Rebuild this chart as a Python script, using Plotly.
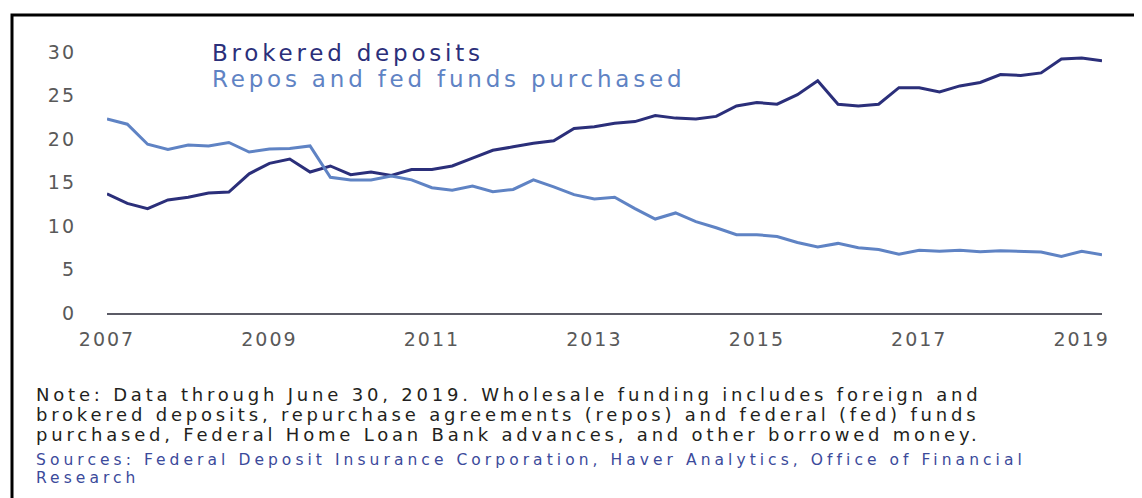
import plotly.graph_objects as go

# quarterly observations, 2007 Q1 .. 2019 Q2 (percent)
quarters = [2007 + 0.25 * i for i in range(50)]

brokered_deposits = [
    13.7, 12.6, 12.0, 13.0, 13.3, 13.8, 13.9, 16.0, 17.2, 17.7,
    16.2, 16.9, 15.9, 16.2, 15.8, 16.5, 16.5, 16.9, 17.8, 18.7,
    19.1, 19.5, 19.8, 21.2, 21.4, 21.8, 22.0, 22.7, 22.4, 22.3,
    22.6, 23.8, 24.2, 24.0, 25.1, 26.7, 24.0, 23.8, 24.0, 25.9,
    25.9, 25.4, 26.1, 26.5, 27.4, 27.3, 27.6, 29.2, 29.3, 29.0,
]
repos_fed_funds = [
    22.3, 21.7, 19.4, 18.8, 19.3, 19.2, 19.6, 18.5, 18.85, 18.9,
    19.2, 15.6, 15.3, 15.3, 15.75, 15.3, 14.4, 14.1, 14.6, 13.95,
    14.2, 15.3, 14.5, 13.6, 13.1, 13.3, 12.0, 10.8, 11.5, 10.5,
    9.8, 9.0, 9.0, 8.8, 8.1, 7.6, 8.0, 7.5, 7.3, 6.75,
    7.2, 7.1, 7.2, 7.05, 7.15, 7.1, 7.0, 6.5, 7.1, 6.7,
]

year_ticks = [2007, 2009, 2011, 2013, 2015, 2017, 2019]
value_ticks = [0, 5, 10, 15, 20, 25, 30]

NAVY = "#2b2f7a"
LIGHT = "#5f83c4"
FONT = "DejaVu Sans"

# page body adds an 8px margin, so the figure is a bit smaller than the window
OFF = 8
W, H = 1142 - OFF, 498 - OFF
L, R, T, B = 99, 40, 44, 185
PW, PH = W - L - R, H - T - B


def px(x):
    # x given in window pixels
    return (x - OFF - L) / PW


def py(y):
    return (H - B - (y - OFF)) / PH


def spaced(text, gap):
    return f'<span style="letter-spacing:{gap}px">{text}</span>'


fig = go.Figure()
fig.add_trace(go.Scatter(x=quarters, y=brokered_deposits, mode="lines",
                         line=dict(color=NAVY, width=3), name="Brokered deposits"))
fig.add_trace(go.Scatter(x=quarters, y=repos_fed_funds, mode="lines",
                         line=dict(color=LIGHT, width=3), name="Repos and fed funds purchased"))

notes = [
    ("Note: Data through June 30, 2019. Wholesale funding includes foreign and", 394, "#231f20", 18, 3.8),
    ("brokered deposits, repurchase agreements (repos) and federal (fed) funds", 414, "#231f20", 18, 3.8),
    ("purchased, Federal Home Loan Bank advances, and other borrowed money.", 434, "#231f20", 18, 3.8),
    ("Sources: Federal Deposit Insurance Corporation, Haver Analytics, Office of Financial", 460, "#3b4a9b", 15.5, 4.05),
    ("Research", 478, "#3b4a9b", 15.5, 4.05),
]
annotations = [
    dict(text=spaced("Brokered deposits", 3.8), x=px(210), y=py(53), font=dict(color=NAVY, size=23)),
    dict(text=spaced("Repos and fed funds purchased", 3.8), x=px(210), y=py(79), font=dict(color=LIGHT, size=23)),
]
for text, y, color, size, gap in notes:
    annotations.append(dict(text=spaced(text, gap), x=px(34), y=py(y), font=dict(color=color, size=size)))
for a in annotations:
    a.update(xref="paper", yref="paper", xanchor="left", yanchor="middle", showarrow=False)

fig.update_layout(
    width=W, height=H,
    margin=dict(l=L, r=R, t=T, b=B),
    paper_bgcolor="white", plot_bgcolor="white",
    font=dict(family=FONT),
    showlegend=False,
    annotations=annotations,
    shapes=[dict(type="rect", xref="paper", yref="paper",
                 x0=px(12), x1=px(1160), y0=py(520), y1=py(15),
                 line=dict(color="black", width=3))],
)
fig.update_xaxes(range=[2007, 2019.25], tickvals=year_ticks,
                 ticktext=[spaced(str(v), 2) for v in year_ticks], showgrid=False,
                 showline=True, linecolor="#5b5b66", linewidth=1.5,
                 tickfont=dict(size=19, color="#595959"), ticklabelstandoff=8,
                 zeroline=False)
fig.update_yaxes(range=[0, 30], tickvals=value_ticks,
                 ticktext=[spaced(str(v), 2) for v in value_ticks],
                 showgrid=False, zeroline=False,
                 tickfont=dict(size=19, color="#595959"), ticklabelstandoff=30)

fig.write_html("out.html")
